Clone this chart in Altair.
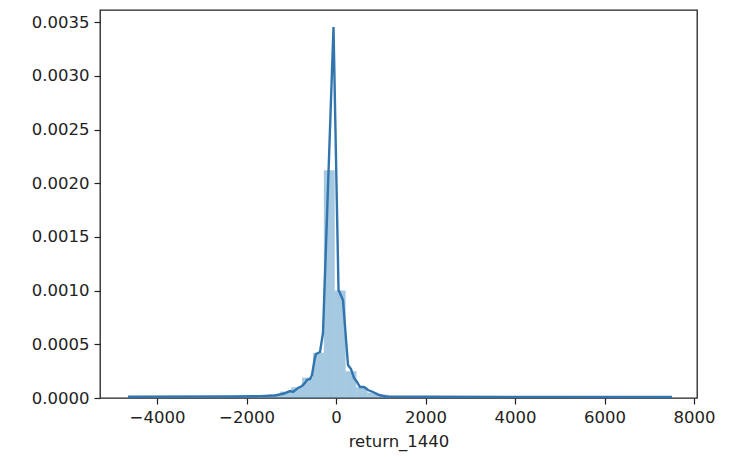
import altair as alt
import pandas as pd
import numpy as np

# Histogram: 50 equal bins between data min and max (density)
hist_min = -4649
hist_max = 7510
n_bins = 50
bin_density = [
    0.000005, 0.000003, 0.000003, 0.000004, 0.000004, 0.000005, 0.000006, 0.000008,
    0.000009, 0.000012, 0.000014, 0.000015, 0.000020, 0.000035, 0.000060, 0.000100,
    0.000190, 0.000420, 0.002120, 0.001000, 0.000250, 0.000100, 0.000050, 0.000030,
    0.000018, 0.000012, 0.000009, 0.000008, 0.000007, 0.000006, 0.000006, 0.000005,
    0.000005, 0.000004, 0.000004, 0.000004, 0.000003, 0.000003, 0.000003, 0.000003,
    0.000003, 0.000003, 0.000003, 0.000003, 0.000003, 0.000003, 0.000003, 0.000003,
    0.000003, 0.000003,
]

# KDE curve points
kde_x = [-4649, -2369, -1699, -1363, -1162, -1028, -961, -849, -760, -693, -648,
         -581, -536, -481, -447, -358, -291, -56, 56, 156, 268, 335, 402, 469,
         536, 626, 715, 827, 961, 1118, 2101, 7510]
kde_y = [0.000011, 0.000014, 0.000017, 0.000023, 0.000042, 0.000065, 0.000056,
         0.000093, 0.000112, 0.000140, 0.000168, 0.000177, 0.000214, 0.000354,
         0.000410, 0.000428, 0.000605, 0.003454, 0.001006, 0.000912, 0.000307,
         0.000270, 0.000186, 0.000149, 0.000102, 0.000102, 0.000074, 0.000056,
         0.000028, 0.000014, 0.000011, 0.000010]

x_ticks = [-4000, -2000, 0, 2000, 4000, 6000, 8000]
y_ticks = [0.0, 0.0005, 0.0010, 0.0015, 0.0020, 0.0025, 0.0030, 0.0035]

edges = np.linspace(hist_min, hist_max, n_bins + 1)
hist_df = pd.DataFrame({
    "start": edges[:-1],
    "end": edges[1:],
    "density": bin_density,
})
kde_df = pd.DataFrame({"x": kde_x, "y": kde_y})

x_scale = alt.Scale(domain=[-5274, 8067], nice=False, zero=False)
y_scale = alt.Scale(domain=[0, 0.0036127], nice=False)

x_axis = alt.Axis(values=x_ticks, format="d", title="return_1440", grid=False,
                  domain=False, tickSize=6, tickWidth=1.2, tickColor="#222",
                  labelPadding=5, labelFontSize=16.5, labelColor="#222",
                  labelFont="DejaVu Sans", titleFont="DejaVu Sans",
                  titleFontSize=16.5, titleFontWeight="normal", titleColor="#222",
                  titlePadding=8)
y_axis = alt.Axis(values=y_ticks, format=".4f", title=None, grid=False,
                  domain=False, tickSize=6, tickWidth=1.2, tickColor="#222",
                  labelPadding=5, labelFontSize=16.5, labelColor="#222",
                  labelFont="DejaVu Sans")

bars = alt.Chart(hist_df).mark_rect(color="#1f77b4", opacity=0.4, strokeWidth=0).encode(
    x=alt.X("start:Q", scale=x_scale, axis=x_axis),
    x2="end:Q",
    y=alt.Y("density:Q", scale=y_scale, axis=y_axis),
    y2=alt.datum(0),
)

line = alt.Chart(kde_df).mark_line(color="#3274ad", strokeWidth=2.4).encode(
    x=alt.X("x:Q", scale=x_scale),
    y=alt.Y("y:Q", scale=y_scale),
)

chart = (bars + line).properties(
    width=597, height=388,
    autosize=alt.AutoSizeParams(type="none"),
    padding={"left": 100, "top": 10, "right": 41, "bottom": 59},
).configure_view(stroke="#222", strokeWidth=1.3)

chart.save("out.html", embed_options={"renderer": "svg", "actions": False})
